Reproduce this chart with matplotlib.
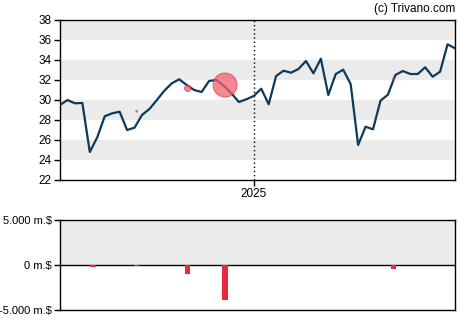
import numpy as np
import pandas as pd
import matplotlib
matplotlib.use('Agg')
import matplotlib.pyplot as plt
import matplotlib.ticker as mticker

plt.rcParams['font.family'] = ['Liberation Sans', 'DejaVu Sans']

# weekly closing prices
start = '2024-07-03'
prices = [29.5, 30.0, 29.67, 29.7, 24.8, 26.27, 28.37, 28.67, 28.83, 27.0,
          27.23, 28.5, 29.1, 30.0, 30.93, 31.67, 32.07, 31.5, 31.0, 30.8,
          31.9, 32.0, 31.4, 30.67, 29.8, 30.07, 30.4, 31.13, 29.57, 32.4,
          32.93, 32.73, 33.1, 33.9, 32.67, 34.13, 30.5, 32.6, 33.03, 31.6,
          25.5, 27.33, 27.07, 29.93, 30.53, 32.5, 32.9, 32.6, 32.6, 33.27,
          32.33, 32.83, 35.57, 35.17]
dates = pd.date_range(start, periods=len(prices), freq='7D')

# insider trades (million $)
trade_dates = pd.to_datetime(['2024-08-03', '2024-09-13', '2024-10-31',
                              '2024-12-05', '2025-05-12'])
trade_values = [-250, -150, -970, -3930, -480]

# bubbles on the price line
bubble_dates = pd.to_datetime(['2024-09-13', '2024-10-31', '2024-12-05', '2025-05-12'])
bubble_prices = [28.87, 31.17, 31.5, 32.07]
bubble_sizes = [1.5, 22, 300, 2]

y_ticks = [22, 24, 26, 28, 30, 32, 34, 36, 38]
low_ticks = [-5000, 0, 5000]
low_labels = [r'-5.000 m.\$', r'0 m.\$', r'5.000 m.\$']

W, H = 470, 325
fig = plt.figure(figsize=(W / 100, H / 100), dpi=100)
ax = fig.add_axes([60 / W, (H - 180) / H, 395 / W, 160 / H])
ax2 = fig.add_axes([60 / W, (H - 310) / H, 395 / W, 90 / H])

x0, x1 = dates[0], dates[-1]

# main price chart
for lo in [24, 28, 32, 36]:
    ax.axhspan(lo, lo + 2, color='#ebebeb', lw=0, zorder=0)
ax.axvline(pd.Timestamp('2025-01-01'), color='black', ls=(0, (1, 2)), lw=1, zorder=1)
ax.plot(dates, prices, color='#0d3a5c', lw=1.6, zorder=3)
ax.scatter(bubble_dates, bubble_prices, s=bubble_sizes, color='#f0606f',
           alpha=0.75, edgecolors='#e8283c', linewidths=0.6, zorder=4)
ax.set_xlim(x0, x1)
ax.set_ylim(22, 38)
ax.set_yticks(y_ticks)
ax.set_xticks([pd.Timestamp('2025-01-01')])
ax.set_xticklabels(['2025'])
ax.tick_params(labelsize=8.5, length=4, width=1, pad=2)
for s in ax.spines.values():
    s.set_linewidth(1)

# insider trades chart
ax2.axhspan(0, 5000, color='#ebebeb', lw=0, zorder=0)
ax2.axhline(0, color='black', lw=1, zorder=2)
ax2.bar(trade_dates, trade_values, width=4.8, color='#e8283c', zorder=3)
ax2.set_xlim(x0, x1)
ax2.set_ylim(-5000, 5000)
ax2.set_yticks(low_ticks)
ax2.yaxis.set_major_formatter(mticker.FixedFormatter(low_labels))
ax2.set_xticks([])
ax2.tick_params(labelsize=8, length=4, width=1, pad=2)
for s in ax2.spines.values():
    s.set_linewidth(1)

fig.text(455 / W, (H - 9) / H, '(c) Trivano.com', ha='right', va='center', fontsize=8.5)

fig.savefig('out.png', dpi=100)
